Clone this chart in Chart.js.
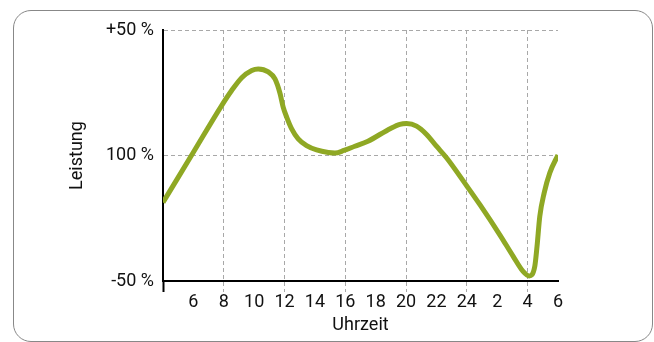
<!DOCTYPE html>
<html>
<head>
<meta charset="utf-8">
<script src="https://cdn.jsdelivr.net/npm/chart.js@4"></script>
<style>
  html, body { margin: 0; padding: 0; background: #fff; }
  #wrap { position: relative; width: 654px; height: 342px; }
  #frame {
    position: absolute; left: 13px; top: 10px; width: 640px; height: 332px;
    box-sizing: border-box; border: 1.6px solid #888; border-radius: 18px;
  }
  #chart { position: absolute; left: 0; top: 0; }
</style>
</head>
<body>
<div id="wrap">
  <div id="frame"></div>
  <canvas id="chart" width="654" height="342"></canvas>
</div>
<script>
// hours counted from 4 o'clock, power in % around the 100 % line
const hours = [0, 2, 3.86, 4.52, 5.18, 5.84, 6.27, 6.93, 7.37, 7.7, 7.91, 8.14, 8.47, 8.9, 9.45, 10.11, 10.88, 11.32, 11.91, 12.63, 13.49, 14.98, 15.59, 16.03, 16.69, 17.35, 18.0, 18.66, 19.98, 20.86, 22.17, 23.05, 23.7, 24.1, 24.47, 24.62, 24.8, 25.09, 25.46, 26];
const power = [-18.7, 1.3, 19.9, 25.9, 31.0, 33.9, 34.5, 33.3, 30.5, 24.8, 19.3, 15.3, 10.6, 6.6, 3.9, 2.2, 1.2, 1.0, 2.0, 3.7, 5.7, 10.8, 12.4, 12.7, 11.7, 8.4, 3.7, -0.9, -12, -19.6, -31.6, -40.2, -46.2, -48, -44.2, -36.2, -24.3, -14.9, -6.9, 0.2];

const xTickLabels = ['', '6', '8', '10', '12', '14', '16', '18', '20', '22', '24', '2', '4', '6'];
const yTickLabels = ['-50 %', '100 %', '+50 %'];

const gridGrey = '#a8a8a8';
const clear = 'rgba(0,0,0,0)';
const txtFont = { family: 'Roboto', size: 18, weight: 400 };

function xGrid(ctx) {
  var v = ctx.tick ? ctx.tick.value : -1;
  return (v > 0 && v < 26 && v % 4 === 0) ? gridGrey : clear;
}

new Chart(document.getElementById('chart'), {
  type: 'line',
  data: {
    datasets: [{
      data: hours.map((h, i) => ({ x: h, y: power[i] })),
      borderColor: '#8fa824',
      borderWidth: 5,
      pointRadius: 0,
      cubicInterpolationMode: 'monotone',
      fill: false
    }]
  },
  options: {
    responsive: false,
    animation: false,
    layout: { padding: { left: 67, top: 30, right: 96, bottom: 6 } },
    plugins: { legend: { display: false }, tooltip: { enabled: false } },
    scales: {
      x: {
        type: 'linear', min: 0, max: 26,
        ticks: {
          stepSize: 2, autoSkip: false, maxRotation: 0, padding: 0,
          color: '#111', font: txtFont,
          callback: (v, i) => xTickLabels[i]
        },
        grid: {
          color: xGrid,
          lineWidth: 1,
          tickLength: 11,
          tickColor: ctx => ctx.index === 0 ? '#000' : xGrid(ctx),
          tickWidth: ctx => ctx.index === 0 ? 2 : 1,
          tickBorderDash: ctx => ctx.index === 0 ? [] : [4, 3]
        },
        border: { color: '#000', width: 2, dash: [4, 3] },
        title: { display: true, text: 'Uhrzeit', color: '#111', font: txtFont, padding: 0 },
        afterFit: s => { s.height = 55; }
      },
      y: {
        min: -50, max: 50,
        ticks: {
          stepSize: 50, padding: 9, color: '#111', font: txtFont,
          callback: (v, i) => yTickLabels[i]
        },
        grid: {
          color: ctx => (ctx.tick && ctx.tick.value > -50) ? gridGrey : clear,
          lineWidth: 1,
          drawTicks: false
        },
        border: { color: '#000', width: 2, dash: [4, 3] },
        title: { display: true, text: 'Leistung', color: '#111', font: txtFont, padding: 0 },
        afterFit: s => { s.width = 96; }
      }
    }
  }
});
</script>
</body>
</html>
